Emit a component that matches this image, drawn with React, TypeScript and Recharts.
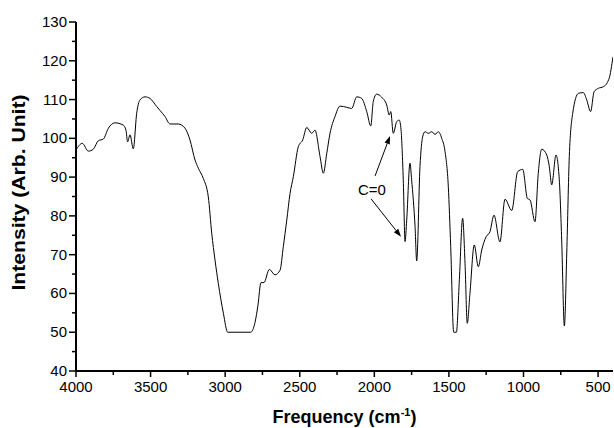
import React from 'react';
import { LineChart, Line, XAxis, YAxis, ReferenceLine, ReferenceDot } from 'recharts';

// Wavenumber (cm-1), descending from left to right on the reversed axis
const frequency = [
  4000, 3958, 3917, 3884, 3850, 3817, 3783, 3739, 3683, 3665, 3654, 3638, 3616, 3593, 3571, 3537, 3504,
  3459, 3437, 3403, 3370, 3314, 3269, 3236, 3202, 3180, 3147, 3113, 3090, 3068, 3046, 3012, 2983, 2829,
  2800, 2780, 2760, 2740, 2704, 2666, 2632, 2610, 2587, 2565, 2543, 2510, 2480, 2453, 2420, 2398, 2364,
  2342, 2319, 2297, 2264, 2230, 2185, 2152, 2118, 2085, 2051, 2024, 2007, 1984, 1951, 1917, 1900, 1890,
  1873, 1850, 1833, 1821, 1806, 1794, 1783, 1761, 1750, 1727, 1716, 1694, 1676, 1660, 1638, 1615, 1593,
  1571, 1548, 1526, 1504, 1488, 1468, 1450, 1430, 1408, 1392, 1377, 1359, 1330, 1303, 1280, 1251, 1225,
  1198, 1158, 1124, 1079, 1039, 1005, 974, 956, 923, 901, 878, 844, 827, 811, 782, 760, 744, 726, 710,
  693, 670, 632, 599, 576, 550, 527, 498, 465, 438, 420, 407, 400,
];

const intensity = [
  97.0, 98.7, 96.7, 97.2, 99.4, 99.8, 102.6, 104.0, 103.4, 102.1, 99.1, 100.9, 97.3, 106.5, 109.9, 110.7, 110.3,
  108.2, 107.2, 105.6, 103.7, 103.7, 102.6, 99.6, 94.4, 92.3, 89.7, 84.9, 75.5, 68.6, 62.6, 54.9, 50.0, 50.0,
  52.5, 57.0, 62.8, 62.8, 66.2, 64.8, 66.0, 72.1, 78.9, 85.8, 90.1, 97.8, 99.6, 102.8, 101.3, 102.1, 95.3,
  91.0, 96.1, 101.3, 105.6, 108.3, 108.0, 107.7, 110.7, 110.3, 106.9, 103.2, 109.5, 111.4, 110.6, 108.6, 106.0, 106.9,
  101.3, 104.3, 104.7, 102.2, 89.3, 73.4, 78.9, 93.6, 89.3, 77.2, 68.4, 92.7, 100.4, 101.7, 101.3, 101.7, 101.0,
  101.7, 100.0, 96.6, 87.5, 72.1, 50.0, 50.0, 63.5, 79.4, 67.8, 52.3, 60.0, 72.5, 66.9, 71.2, 74.6, 75.9,
  80.2, 73.3, 84.3, 81.4, 91.4, 92.0, 84.5, 84.1, 78.5, 91.0, 97.2, 95.7, 92.7, 88.0, 95.7, 89.3, 73.8, 51.6, 70.4,
  95.3, 106.5, 111.6, 111.8, 109.9, 106.9, 112.0, 112.9, 113.3, 114.4, 116.3, 119.3, 121.0,
];

const xTicks = [4000, 3750, 3500, 3250, 3000, 2750, 2500, 2250, 2000, 1750, 1500, 1250, 1000, 750, 500];
const xMajor = [4000, 3500, 3000, 2500, 2000, 1500, 1000, 500];
const yTicks = [40, 45, 50, 55, 60, 65, 70, 75, 80, 85, 90, 95, 100, 105, 110, 115, 120, 125, 130];
const yMajor = [40, 50, 60, 70, 80, 90, 100, 110, 120, 130];

const annotationText = 'C=0';
const annotationPos = { x: 2016, y: 86.9 };
const arrowUpper = [{ x: 1995, y: 90.3 }, { x: 1895, y: 100.6 }];
const arrowLower = [{ x: 2022, y: 84.4 }, { x: 1821, y: 74.6 }];

const data = frequency.map((f, i) => ({ f, v: intensity[i] }));

const FONT = '"Liberation Sans", Arial, Helvetica, sans-serif';

const BottomTick = (props: any) => {
  const { x, y, payload } = props;
  const major = xMajor.includes(payload.value);
  return (
    <g>
      <line x1={x} y1={y} x2={x} y2={y + (major ? 6 : 4)} stroke="#000" strokeWidth={1.5} />
      {major && (
        <text x={x} y={y + 21} textAnchor="middle" fontSize={15} fontFamily={FONT} fill="#000">
          {payload.value}
        </text>
      )}
    </g>
  );
};

const TopTick = (props: any) => {
  const { x, y } = props;
  return <line x1={x} y1={y} x2={x} y2={y - 3} stroke="#000" strokeWidth={1.5} />;
};

const LeftTick = (props: any) => {
  const { x, y, payload } = props;
  const major = yMajor.includes(payload.value);
  return (
    <g>
      <line x1={x - (major ? 7 : 4)} y1={y} x2={x} y2={y} stroke="#000" strokeWidth={1.5} />
      {major && (
        <text x={x - 9} y={y + 5} textAnchor="end" fontSize={15} fontFamily={FONT} fill="#000">
          {payload.value}
        </text>
      )}
    </g>
  );
};

const ArrowShape = (props: any) => {
  const { x1, y1, x2, y2 } = props;
  if ([x1, y1, x2, y2].some((v) => v == null || isNaN(v))) return null;
  const ang = Math.atan2(y2 - y1, x2 - x1);
  const L = 8;
  const W = 2.8;
  const c = Math.cos(ang);
  const s = Math.sin(ang);
  const bx = x2 - L * c;
  const by = y2 - L * s;
  const pts = `${x2},${y2} ${bx + W * s},${by - W * c} ${bx - W * s},${by + W * c}`;
  return (
    <g>
      <line x1={x1} y1={y1} x2={bx} y2={by} stroke="#000" strokeWidth={1} />
      <polygon points={pts} fill="#000" />
    </g>
  );
};

const AnnotationText = (props: any) => {
  const { cx, cy } = props;
  if (cx == null || cy == null) return null;
  return (
    <text x={cx} y={cy + 6} textAnchor="middle" fontSize={15} fontFamily={FONT} fill="#000">
      {annotationText}
    </text>
  );
};

const XLabel = (props: any) => {
  const vb = props.viewBox || {};
  const cx = vb.x + vb.width / 2;
  return (
    <text x={cx} y={vb.y + 52} textAnchor="middle" fontSize={18} fontWeight="bold" fontFamily={FONT} fill="#000">
      <tspan>Frequency (cm</tspan>
      <tspan dy={-7} fontSize={11}>-1</tspan>
      <tspan dy={7}>)</tspan>
    </text>
  );
};

const YLabel = (props: any) => {
  const vb = props.viewBox || {};
  const x = vb.x + 9;
  const y = vb.y + vb.height / 2 - 4;
  return (
    <text
      x={x}
      y={y}
      transform={`rotate(-90, ${x}, ${y})`}
      textAnchor="middle"
      fontSize={18}
      fontWeight="bold"
      fontFamily={FONT}
      fill="#000"
      textLength={196}
      lengthAdjust="spacingAndGlyphs"
    >
      Intensity (Arb. Unit)
    </text>
  );
};

export default function App() {
  return (
    <div style={{ position: 'absolute', left: 0, top: 0, background: '#fff' }}>
      <LineChart width={614} height={428} data={data} margin={{ top: 22, right: 1, bottom: 27, left: 16 }}>
        <XAxis
          dataKey="f"
          type="number"
          domain={[400, 4000]}
          reversed
          ticks={xTicks}
          interval={0}
          allowDataOverflow
          height={30}
          tickSize={0}
          tickMargin={0}
          tick={<BottomTick />}
          axisLine={{ stroke: '#000', strokeWidth: 2 }}
          label={{ content: <XLabel /> }}
        />
        <XAxis
          xAxisId="top"
          orientation="top"
          dataKey="f"
          type="number"
          domain={[400, 4000]}
          reversed
          ticks={xTicks}
          interval={0}
          allowDataOverflow
          height={0}
          tickSize={0}
          tickMargin={0}
          tick={<TopTick />}
          axisLine={{ stroke: '#000', strokeWidth: 2 }}
        />
        <YAxis
          type="number"
          domain={[40, 130]}
          ticks={yTicks}
          interval={0}
          allowDataOverflow
          width={60}
          tickSize={0}
          tickMargin={0}
          tick={<LeftTick />}
          axisLine={{ stroke: '#000', strokeWidth: 2 }}
          label={{ content: <YLabel /> }}
        />
        <YAxis
          yAxisId="right"
          orientation="right"
          type="number"
          domain={[40, 130]}
          width={0}
          tick={false}
          tickSize={0}
          axisLine={{ stroke: '#000', strokeWidth: 2 }}
        />
        <Line
          dataKey="v"
          type="monotone"
          stroke="#000"
          strokeWidth={1}
          dot={false}
          isAnimationActive={false}
        />
        <ReferenceLine segment={arrowUpper} shape={ArrowShape} />
        <ReferenceLine segment={arrowLower} shape={ArrowShape} />
        <ReferenceDot x={annotationPos.x} y={annotationPos.y} r={0} shape={AnnotationText} />
      </LineChart>
    </div>
  );
}
